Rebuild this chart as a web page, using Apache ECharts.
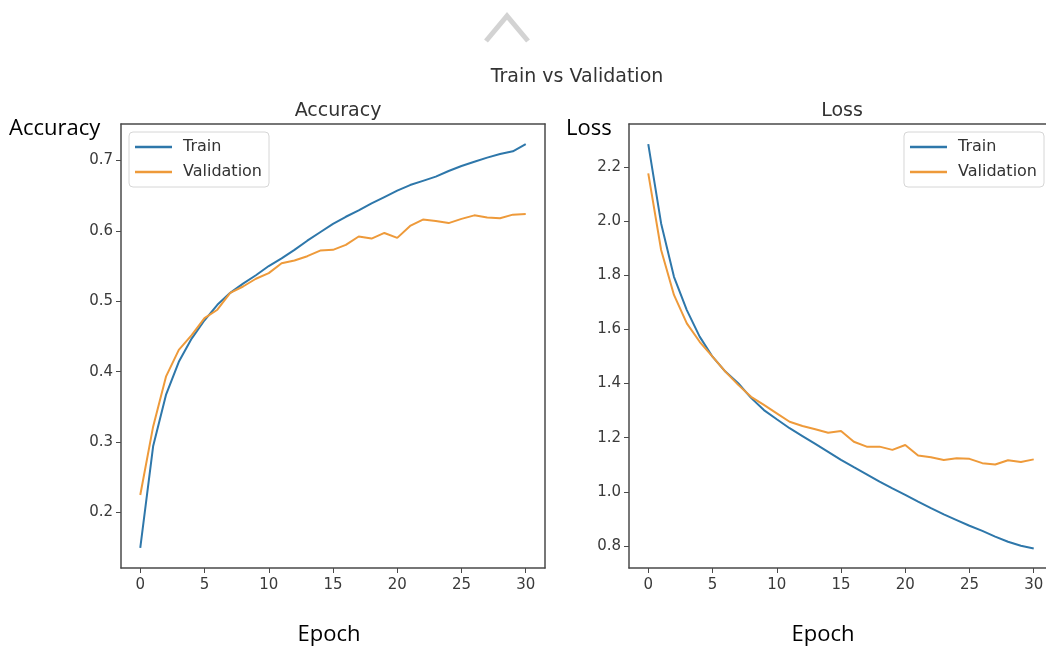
<!DOCTYPE html>
<html>
<head>
<meta charset="utf-8">
<script src="https://cdn.jsdelivr.net/npm/echarts@6/dist/echarts.min.js"></script>
<style>html,body{margin:0;padding:0;background:#fff;}#c{width:1046px;height:648px;}</style>
</head>
<body>
<div id="c"></div>
<script>
const epochs = [0,1,2,3,4,5,6,7,8,9,10,11,12,13,14,15,16,17,18,19,20,21,22,23,24,25,26,27,28,29,30];
const accTrain = [0.150,0.294,0.367,0.414,0.447,0.473,0.495,0.512,0.525,0.537,0.550,0.561,0.573,0.586,0.598,0.610,0.620,0.629,0.639,0.648,0.657,0.665,0.671,0.677,0.685,0.692,0.698,0.704,0.709,0.713,0.723];
const accVal = [0.225,0.322,0.393,0.431,0.452,0.476,0.488,0.512,0.521,0.532,0.540,0.554,0.558,0.564,0.572,0.573,0.580,0.592,0.589,0.597,0.590,0.607,0.616,0.614,0.611,0.617,0.622,0.619,0.618,0.623,0.624];
const lossTrain = [2.284,1.991,1.794,1.671,1.573,1.499,1.444,1.401,1.347,1.302,1.268,1.235,1.206,1.177,1.148,1.118,1.091,1.065,1.038,1.013,0.989,0.964,0.940,0.917,0.896,0.875,0.856,0.835,0.816,0.801,0.791];
const lossVal = [2.176,1.893,1.727,1.622,1.554,1.499,1.444,1.395,1.351,1.321,1.290,1.259,1.243,1.231,1.218,1.225,1.185,1.167,1.167,1.155,1.173,1.134,1.128,1.118,1.124,1.122,1.106,1.101,1.117,1.110,1.120];
const xTicks = [0,5,10,15,20,25,30];
const accTicks = [0.2,0.3,0.4,0.5,0.6,0.7];
const lossTicks = [0.8,1.0,1.2,1.4,1.6,1.8,2.0,2.2];
const seriesNames = ['Train','Validation'];

const BLUE = '#2e77aa', ORANGE = '#ee9a3a';
const pair = arr => epochs.map((e,i)=>[e, arr[i]]);
const tickFont = {fontFamily:'DejaVu Sans', fontSize:15, color:'#3a3a3a'};
const frame = '#4a4a4a';
const frameLine = {show:true, onZero:false, lineStyle:{color:frame, width:1.5}};

function xAxis(gi, max){
  return {type:'value', gridIndex:gi, min:-1.5, max:max, position:'bottom',
    axisLine:frameLine,
    axisTick:{show:true, length:5, customValues:xTicks, lineStyle:{color:frame}},
    axisLabel:Object.assign({customValues:xTicks, margin:10}, tickFont),
    splitLine:{show:false}};
}
function borderAxis(gi, pos){
  return {type:'value', gridIndex:gi, position:pos, min:0, max:1,
    axisLine:frameLine, axisTick:{show:false}, axisLabel:{show:false}, splitLine:{show:false}};
}
function yAxis(gi, min, max, ticks){
  return {type:'value', gridIndex:gi, min:min, max:max, position:'left',
    axisLine:frameLine,
    axisTick:{show:true, length:5, customValues:ticks, lineStyle:{color:frame}},
    axisLabel:Object.assign({customValues:ticks, margin:8, formatter:v=>v.toFixed(1)}, tickFont),
    splitLine:{show:false}};
}
function line(name, color, gi, data){
  return {type:'line', name:name, xAxisIndex:gi, yAxisIndex:gi, data:pair(data),
    symbol:'none', lineStyle:{color:color, width:2}, itemStyle:{color:color}};
}
function legend(pos){
  return Object.assign({data:seriesNames, orient:'vertical', icon:'rect', itemWidth:37, itemHeight:2.5, itemGap:9,
    backgroundColor:'#fff', borderColor:'#d6d6d6', borderWidth:1, borderRadius:4, padding:[7,7,7,6],
    textStyle:{fontFamily:'DejaVu Sans', fontSize:16, color:'#333', padding:[0,0,0,6]}}, pos);
}
const wordFont = {fontFamily:'Open Sans', fontSize:22, fontWeight:'normal', color:'#000'};
const mplTitle = {fontFamily:'DejaVu Sans', fontSize:19, fontWeight:'normal', color:'#333'};

const chart = echarts.init(document.getElementById('c'), null, {renderer:'canvas'});
chart.setOption({
  backgroundColor:'#fff',
  animation:false,
  title:[
    {text:'Train vs Validation', left:572, top:63, textAlign:'center', textStyle:mplTitle},
    {text:'Accuracy', left:333, top:97, textAlign:'center', textStyle:mplTitle},
    {text:'Loss', left:837, top:97, textAlign:'center', textStyle:mplTitle},
    {text:'Accuracy', left:4, top:113, textStyle:wordFont},
    {text:'Loss', left:561, top:113, textStyle:wordFont},
    {text:'Epoch', left:324, top:619, textAlign:'center', textStyle:wordFont},
    {text:'Epoch', left:818, top:619, textAlign:'center', textStyle:wordFont}
  ],
  legend:[legend({left:129, top:132}), legend({right:2, top:132})],
  grid:[
    {left:121, top:124, width:424, height:444, show:false, outerBoundsMode:'none'},
    {left:629, top:124, width:424, height:444, show:false, outerBoundsMode:'none'}
  ],
  xAxis:[xAxis(0, 31.5), xAxis(1, 31.5), borderAxis(0, 'top'), borderAxis(1, 'top')],
  yAxis:[yAxis(0, 0.1213, 0.7517, accTicks), yAxis(1, 0.719, 2.358, lossTicks), borderAxis(0, 'right')],
  series:[
    line('Train', BLUE, 0, accTrain),
    line('Validation', ORANGE, 0, accVal),
    line('Train', BLUE, 1, lossTrain),
    line('Validation', ORANGE, 1, lossVal)
  ],
  graphic:[
    {type:'polyline', shape:{points:[[486,41],[507,16],[528,41]]}, style:{stroke:'#d3d3d3', lineWidth:5, fill:null}, silent:true}
  ]
});
</script>
</body>
</html>
